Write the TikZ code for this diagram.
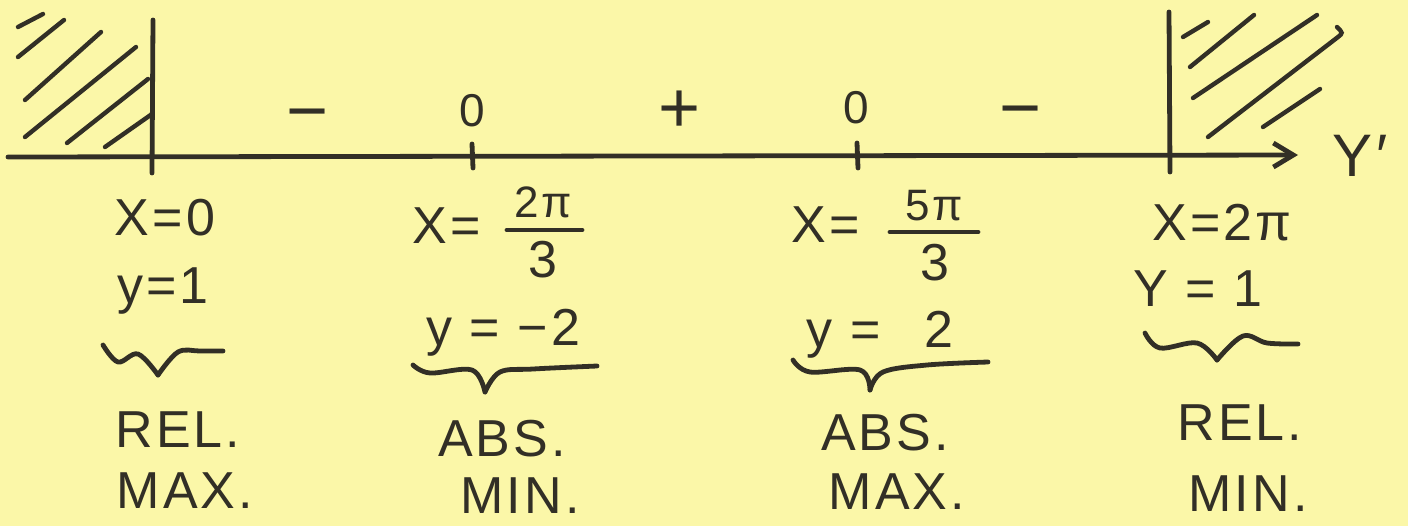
\documentclass[tikz,border=0pt]{standalone}
\usepackage{fontspec}
\setmainfont{Liberation Sans}[LetterSpace=6]
\usetikzlibrary{arrows.meta}
\definecolor{paper}{RGB}{251,247,168}
\definecolor{ink}{RGB}{50,47,38}
\tikzset{
  pen/.style={draw=ink,line width=2.4pt,line cap=round,line join=round},
  hatch/.style={draw=ink,line width=2.2pt,line cap=round},
  lbl/.style={text=ink,inner sep=0pt,anchor=base,font=\fontsize{26}{30}\selectfont},
  small/.style={lbl,font=\fontsize{22}{26}\selectfont},
  sign/.style={text=ink,inner sep=0pt,font=\fontsize{36}{40}\selectfont},
  zero/.style={text=ink,inner sep=0pt,font=\fontsize{23}{26}\selectfont},
}
\begin{document}
\begin{tikzpicture}[x=0.5pt,y=-0.5pt]
\fill[paper] (0,0) rectangle (1408,526);
\useasboundingbox (0,0) rectangle (1408,526);

% axis
\coordinate (a0) at (8,157);
\coordinate (a1) at (1298,155);
\draw[pen,-{Straight Barb[length=10pt,width=12pt]}] (a0) -- (a1);

% boundaries
\coordinate (l0) at (153,20);  \coordinate (l1) at (152,173);
\coordinate (r0) at (1169,12); \coordinate (r1) at (1170,172);
\draw[pen] (l0) -- (l1);
\draw[pen] (r0) -- (r1);

% ticks
\coordinate (t1a) at (472,144); \coordinate (t1b) at (473,168);
\coordinate (t2a) at (857,143); \coordinate (t2b) at (858,168);
\draw[pen] (t1a) -- (t1b);
\draw[pen] (t2a) -- (t2b);

% hatching left
\draw[hatch] (18,27) -- (43,14);
\draw[hatch] (18,57) -- (64,20);
\draw[hatch] (25,100) -- (101,32);
\draw[hatch] (25,137) -- (136,47);
\draw[hatch] (67,143) -- (148,79);
\draw[hatch] (105,147) -- (152,114);
% hatching right
\draw[hatch] (1183,37) -- (1208,22);
\draw[hatch] (1190,67) -- (1254,15);
\draw[hatch] (1193,98) -- (1317,15);
\draw[hatch] (1208,137) -- (1338,37) .. controls (1343,33) .. (1337,27);
\draw[hatch] (1263,127) -- (1320,89);

% signs
\node[sign] (s1) at (308,122) {−};
\node[zero] (z1) at (472,111) {0};
\node[sign] (s2) at (680,112) {+};
\node[zero] (z2) at (856,108) {0};
\node[sign] (s3) at (1021,119) {−};

% axis label
\node[lbl,font=\fontsize{30}{34}\selectfont] (yp) at (1360,176) {Y′};

% column 1
\node[lbl] (x1) at (165,235) {X=0};
\node[lbl] (y1) at (163,303) {y=1};
\draw[pen] plot[smooth,tension=0.6] coordinates {(103,345) (118,362) (138,354) (158,375)};
\draw[pen] plot[smooth,tension=0.6] coordinates {(158,375) (178,352) (200,351) (223,351)};
\node[lbl] (r1a) at (178,447) {REL.};
\node[lbl] (r1b) at (185,508) {MAX.};

% column 2
\node[lbl] (x2) at (447,243) {X=};
\node[small] (n2) at (543,217) {2π};
\draw[pen] (507,230) -- (582,230);
\node[lbl] (d2) at (543,277) {3};
\node[lbl] (y2) at (503,345) {y = −2};
\draw[pen] plot[smooth,tension=0.6] coordinates {(413,365) (430,373) (472,370) (485,392)};
\draw[pen] plot[smooth,tension=0.6] coordinates {(485,392) (500,372) (533,369) (597,366)};
\node[lbl] (r2a) at (502,456) {ABS.};
\node[lbl] (r2b) at (520,513) {MIN.};

% column 3
\node[lbl] (x3) at (826,242) {X=};
\node[small] (n3) at (934,220) {5π};
\draw[pen] (890,232) -- (978,232);
\node[lbl] (d3) at (935,280) {3};
\node[lbl] (y3) at (880,347) {y = \hspace{0.5em}2};
\draw[pen] plot[smooth,tension=0.6] coordinates {(793,360) (810,372) (860,370) (870,390)};
\draw[pen] plot[smooth,tension=0.6] coordinates {(870,390) (883,372) (927,365) (988,362)};
\node[lbl] (r3a) at (885,450) {ABS.};
\node[lbl] (r3b) at (897,509) {MAX.};

% column 4
\node[lbl] (x4) at (1222,240) {X=2π};
\node[lbl] (y4) at (1198,306) {Y = 1};
\draw[pen] plot[smooth,tension=0.6] coordinates {(1145,333) (1160,348) (1197,343) (1217,360)};
\draw[pen] plot[smooth,tension=0.6] coordinates {(1217,360) (1243,336) (1267,343) (1298,344)};
\node[lbl] (r4a) at (1240,440) {REL.};
\node[lbl] (r4b) at (1248,511) {MIN.};
\end{tikzpicture}
\end{document}
